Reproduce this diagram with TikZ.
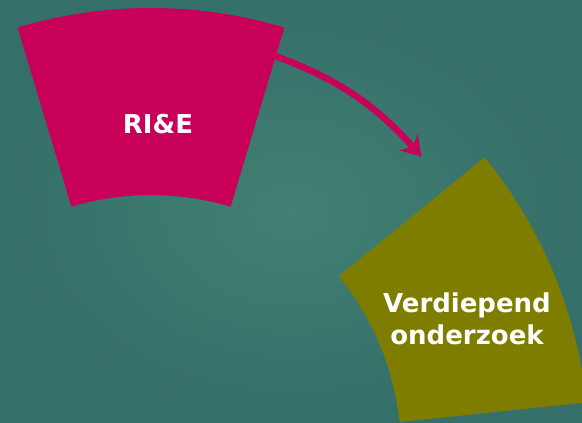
\documentclass[tikz,border=0pt]{standalone}
\usepackage{fontspec}
\setmainfont{DejaVu Sans}
\usetikzlibrary{arrows.meta,calc}
\definecolor{bginner}{HTML}{418072}
\definecolor{bgouter}{HTML}{356F69}
\definecolor{magentaseg}{HTML}{C8005A}
\definecolor{oliveseg}{HTML}{7F7D00}
\tikzset{
  seglabel/.style={text=white,font=\bfseries\fontsize{26}{32}\selectfont,align=center,inner sep=0pt},
  curvedarrow/.style={draw=magentaseg,line width=6.5pt,-{Stealth[length=19pt,width=24pt,inset=6pt]}}
}
\begin{document}
\begin{tikzpicture}[x=1pt,y=1pt]
  \useasboundingbox (0,0) rectangle (582,423);
  \shade[inner color=bginner,outer color=bgouter] (0,0) rectangle (582,423);
  % arrow (drawn first, emerges from behind the magenta segment)
  \coordinate (arrowstart) at (270,369);
  \coordinate (arrowend) at (421.5,266.5);
  \draw[curvedarrow] (arrowstart) to[out=-20,in=132] (arrowend);
  % magenta segment
  \coordinate (c1) at (151,-49);
  \fill[magentaseg] ($(c1)+(73.3:277pt)$) arc[start angle=73.3,end angle=106.7,radius=277pt]
     -- ($(c1)+(106.7:464pt)$) arc[start angle=106.7,end angle=73.3,radius=464pt] -- cycle;
  % olive segment
  \coordinate (c2) at (124,-28);
  \fill[oliveseg] ($(c2)+(6:277pt)$) arc[start angle=6,end angle=39.15,radius=277pt]
     -- ($(c2)+(39.15:465pt)$) arc[start angle=39.15,end angle=6,radius=465pt] -- cycle;
  % labels
  \node[seglabel] (rie) at (158,299) {RI\&E};
  \node[seglabel] (verd) at (467,104) {Verdiepend\\onderzoek};
\end{tikzpicture}
\end{document}
